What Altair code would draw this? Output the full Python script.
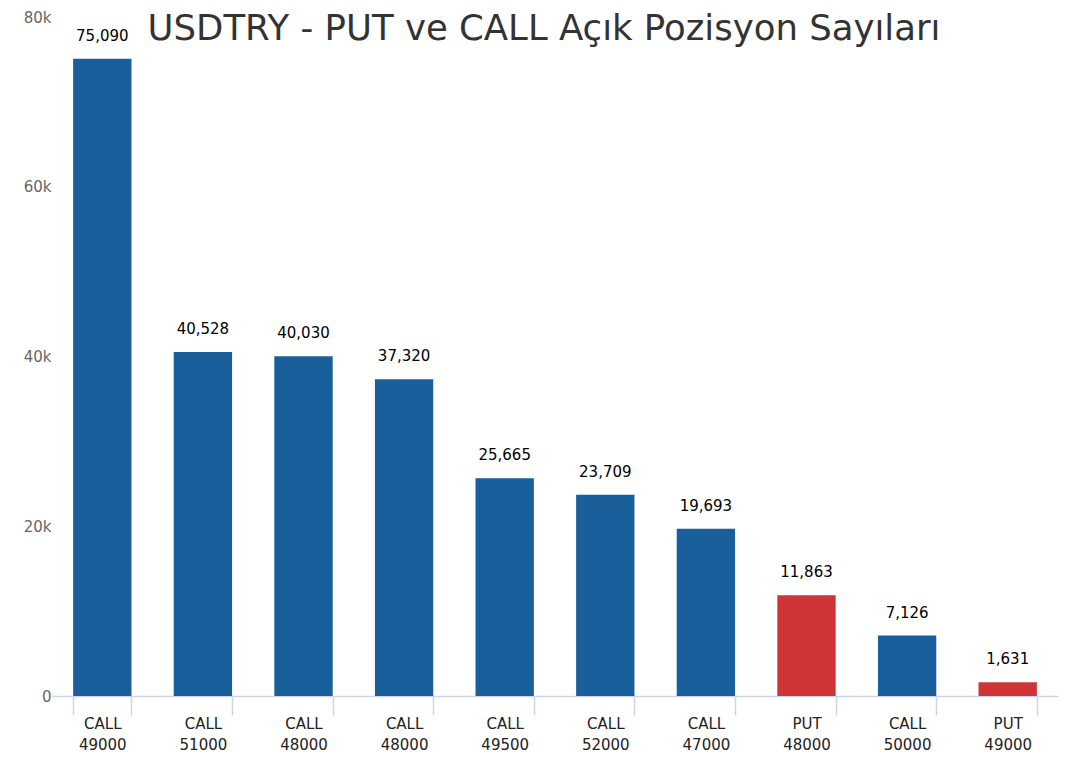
import altair as alt
import pandas as pd

title_text = ["USDTRY - PUT ve CALL Açık Pozisyon Sayıları"]
types = ["CALL", "CALL", "CALL", "CALL", "CALL", "CALL", "CALL", "PUT", "CALL", "PUT"]
strikes = ["49000", "51000", "48000", "48000", "49500", "52000", "47000", "48000", "50000", "49000"]
values = [75090, 40528, 40030, 37320, 25665, 23709, 19693, 11863, 7126, 1631]
y_ticks = [0, 20000, 40000, 60000, 80000]
type_domain = ["CALL", "PUT"]
type_colors = ["#185f9b", "#cf3436"]

df = pd.DataFrame({"idx": list(range(len(values))), "type": types, "strike": strikes, "value": values})
title_df = pd.DataFrame({"t": title_text})

labels_js = "[" + ",".join(f"['{t}','{s}']" for t, s in zip(types, strikes)) + "]"

FONT = "DejaVu Sans"

x = alt.X(
    "idx:O",
    scale=alt.Scale(paddingInner=0.42, paddingOuter=0.21),
    axis=alt.Axis(
        title=None,
        labelExpr=f"{labels_js}[datum.value]",
        labelAngle=0,
        labelFont=FONT,
        labelFontSize=15,
        labelColor="#222",
        labelBaseline="top",
        labelLineHeight=21,
        labelPadding=1,
        tickBand="extent",
        tickSize=19,
        tickColor="#ccd6eb",
        tickWidth=1.5,
        domainColor="#ccd6eb",
        domainWidth=1.5,
        grid=False,
    ),
)
y = alt.Y(
    "value:Q",
    scale=alt.Scale(domain=[0, 80000]),
    axis=alt.Axis(
        title=None,
        values=y_ticks,
        labelExpr="datum.value == 0 ? '0' : (datum.value / 1000) + 'k'",
        domain=False,
        ticks=False,
        grid=False,
        labelFont=FONT,
        labelFontSize=15,
        labelColor="#666",
        labelPadding=1,
    ),
)

base = alt.Chart(df)
bars = base.mark_bar().encode(
    x=x,
    y=y,
    color=alt.Color("type:N", scale=alt.Scale(domain=type_domain, range=type_colors), legend=None),
)
texts = base.mark_text(dy=-18, baseline="alphabetic", font=FONT, fontSize=15, color="#000").encode(
    x=x, y=y, text=alt.Text("value:Q", format=",")
)
title = alt.Chart(title_df).mark_text(
    font=FONT, fontSize=35.5, color="#333", align="center", baseline="alphabetic"
).encode(text="t:N", x=alt.value(492), y=alt.value(23))

chart = (
    alt.layer(bars, texts, title)
    .properties(
        width=1006,
        height=679,
        autosize=alt.AutoSizeParams(type="none"),
        padding={"left": 44, "top": 9, "right": 3, "bottom": 60},
    )
    .configure_view(strokeWidth=0)
)

chart.save("out.html", embed_options={"renderer": "svg", "actions": False})
